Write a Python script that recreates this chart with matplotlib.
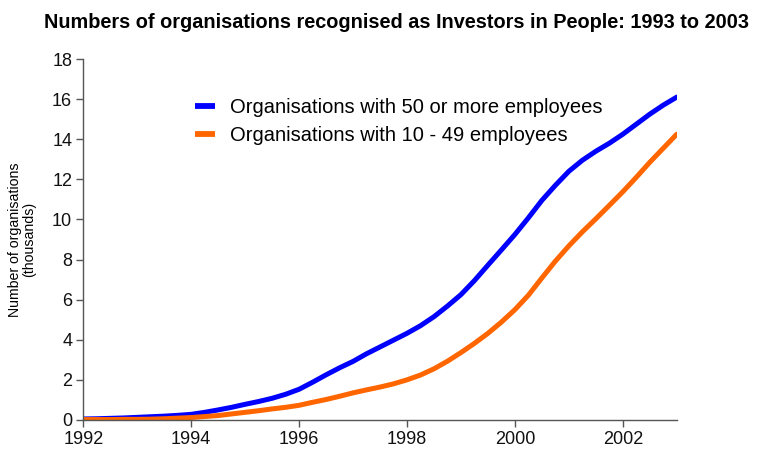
import matplotlib
matplotlib.use("Agg")
import matplotlib.pyplot as plt

plt.rcParams['font.family'] = ['Liberation Sans', 'DejaVu Sans']

years = [1992.00, 1992.25, 1992.50, 1992.75, 1993.00, 1993.25, 1993.50, 1993.75,
         1994.00, 1994.25, 1994.50, 1994.75, 1995.00, 1995.25, 1995.50, 1995.75,
         1996.00, 1996.25, 1996.50, 1996.75, 1997.00, 1997.25, 1997.50, 1997.75,
         1998.00, 1998.25, 1998.50, 1998.75, 1999.00, 1999.25, 1999.50, 1999.75,
         2000.00, 2000.25, 2000.50, 2000.75, 2001.00, 2001.25, 2001.50, 2001.75,
         2002.00, 2002.25, 2002.50, 2002.75, 2003.00]
large = [0.05, 0.06, 0.08, 0.10, 0.13, 0.16, 0.19, 0.23,
         0.28, 0.38, 0.50, 0.63, 0.78, 0.92, 1.08, 1.28,
         1.53, 1.88, 2.25, 2.60, 2.92, 3.30, 3.64, 3.98,
         4.32, 4.70, 5.15, 5.68, 6.25, 6.95, 7.72, 8.48,
         9.25, 10.08, 10.95, 11.70, 12.40, 12.95, 13.40, 13.80,
         14.25, 14.75, 15.25, 15.70, 16.10]
small = [0.02, 0.02, 0.02, 0.03, 0.03, 0.04, 0.06, 0.09,
         0.12, 0.17, 0.22, 0.30, 0.38, 0.46, 0.55, 0.63,
         0.73, 0.88, 1.02, 1.18, 1.35, 1.50, 1.64, 1.80,
         2.00, 2.24, 2.55, 2.93, 3.36, 3.82, 4.32, 4.88,
         5.50, 6.22, 7.08, 7.92, 8.68, 9.38, 10.03, 10.70,
         11.38, 12.10, 12.85, 13.55, 14.25]
label_large = "Organisations with 50 or more employees"
label_small = "Organisations with 10 - 49 employees"
xticks = [1992, 1994, 1996, 1998, 2000, 2002]
yticks = list(range(0, 19, 2))

fig = plt.figure(figsize=(7.57, 4.54), dpi=100)
ax = fig.add_axes([0.110, 0.075, 0.784, 0.795])

ax.plot(years, large, color='#0000FF', lw=3.6, label=label_large,
        solid_capstyle='round', solid_joinstyle='round')
ax.plot(years, small, color='#FF6600', lw=3.6, label=label_small,
        solid_capstyle='round', solid_joinstyle='round')

ax.set_xlim(1992, 2003)
ax.set_ylim(0, 18)
ax.set_xticks(xticks)
ax.set_yticks(yticks)
ax.tick_params(axis='both', labelsize=13, direction='out', length=5,
               color='#555555', width=1, pad=3, labelcolor='#111111')
for s in ['top', 'right']:
    ax.spines[s].set_visible(False)
for s in ['left', 'bottom']:
    ax.spines[s].set_color('#555555')
    ax.spines[s].set_linewidth(1)

ax.set_ylabel("Number of organisations\n(thousands)", fontsize=10.2,
              linespacing=1.05, va='center', ha='center')
ax.yaxis.set_label_coords(-0.103, 0.5)

fig.text(0.524, 0.950,
         "Numbers of organisations recognised as Investors in People: 1993 to 2003",
         fontsize=14.3, fontweight='bold', ha='center', va='center')

leg = ax.legend(loc='upper left', bbox_to_anchor=(0.158, 0.942), frameon=False,
                fontsize=14.5, handlelength=1.0, handletextpad=0.75, labelspacing=0.45)
for h in leg.get_lines():
    h.set_linewidth(4.2)
    h.set_solid_capstyle('butt')

fig.savefig("out.png", dpi=100)
